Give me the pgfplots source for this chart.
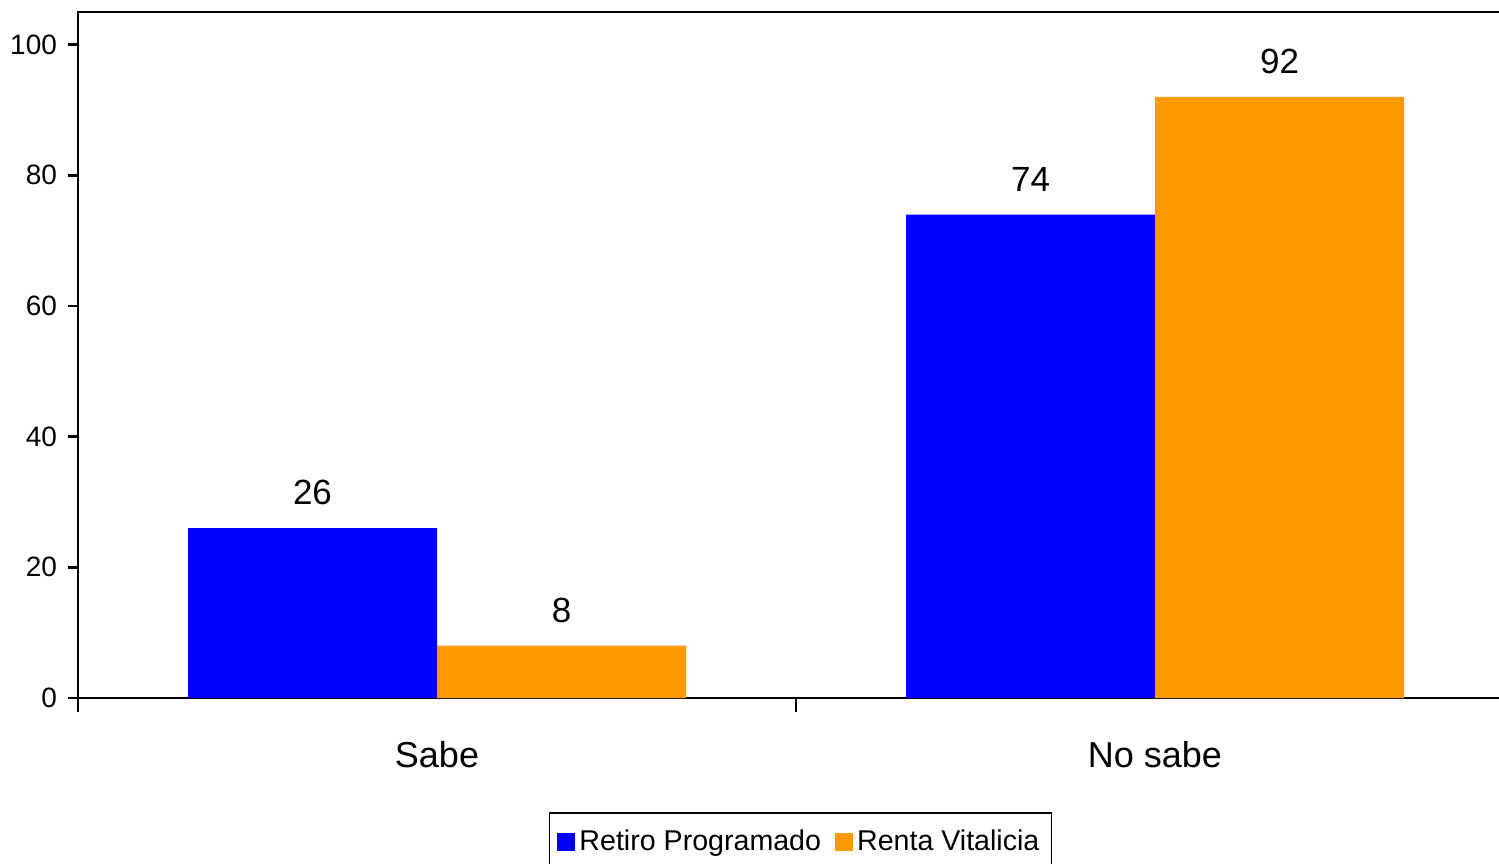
\documentclass[border=0pt]{standalone}
\usepackage{fontspec}
\setmainfont{Liberation Sans}
\usepackage{pgfplots}
\pgfplotsset{compat=1.18}

\definecolor{rpblue}{HTML}{0000FF}
\definecolor{rvorange}{HTML}{FF9900}

\begin{document}
\begin{tikzpicture}
% the reference is cut at the right and bottom edges
\path[use as bounding box] (-39pt,-82.5pt) rectangle (710.5pt,349pt);
\begin{axis}[
    scale only axis,
    width=718pt, height=343pt,
    at={(0pt,0pt)}, anchor=south west,
    ybar=0pt, bar width=124.5pt,
    xmin=-0.5, xmax=1.5,
    ymin=0, ymax=105,
    xtick={0,1},
    xticklabels={Sabe, No sabe},
    minor xtick={-0.5,0.5,1.5},
    ytick={0,20,40,60,80,100},
    xtick pos=bottom, ytick pos=left,
    tick align=outside,
    major tick length=5pt, minor tick length=7pt,
    major x tick style={draw=none},
    minor x tick style={line width=1.2pt, black},
    ytick style={line width=1.2pt, black},
    axis line style={line width=1.2pt, black},
    /pgf/number format/assume math mode=true,
    yticklabel style={font=\fontsize{14}{16}\selectfont, xshift=-2pt},
    xticklabel style={font=\fontsize{18}{21}\selectfont, yshift=-13pt},
    nodes near coords,
    every node near coord/.append style={font=\fontsize{17.5}{20}\selectfont,
      black, inner sep=2pt, yshift=9.2pt},
    legend columns=2,
    legend image code/.code={\draw[#1,draw=none] (0pt,-4.5pt) rectangle (9pt,4.5pt);},
    legend style={at={(0.5031,0)}, anchor=north, yshift=-57pt,
      draw=black, line width=0.8pt,
      font=\fontsize{14.3}{17}\selectfont,
      inner xsep=4pt, inner ysep=6.5pt,
      /tikz/every even column/.append style={column sep=5pt}},
]
\addplot[fill=rpblue, draw=none] coordinates {(0,26) (1,74)};
\addlegendentry{Retiro Programado}
\addplot[fill=rvorange, draw=none] coordinates {(0,8) (1,92)};
\addlegendentry{Renta Vitalicia}
\end{axis}
\end{tikzpicture}
\end{document}
